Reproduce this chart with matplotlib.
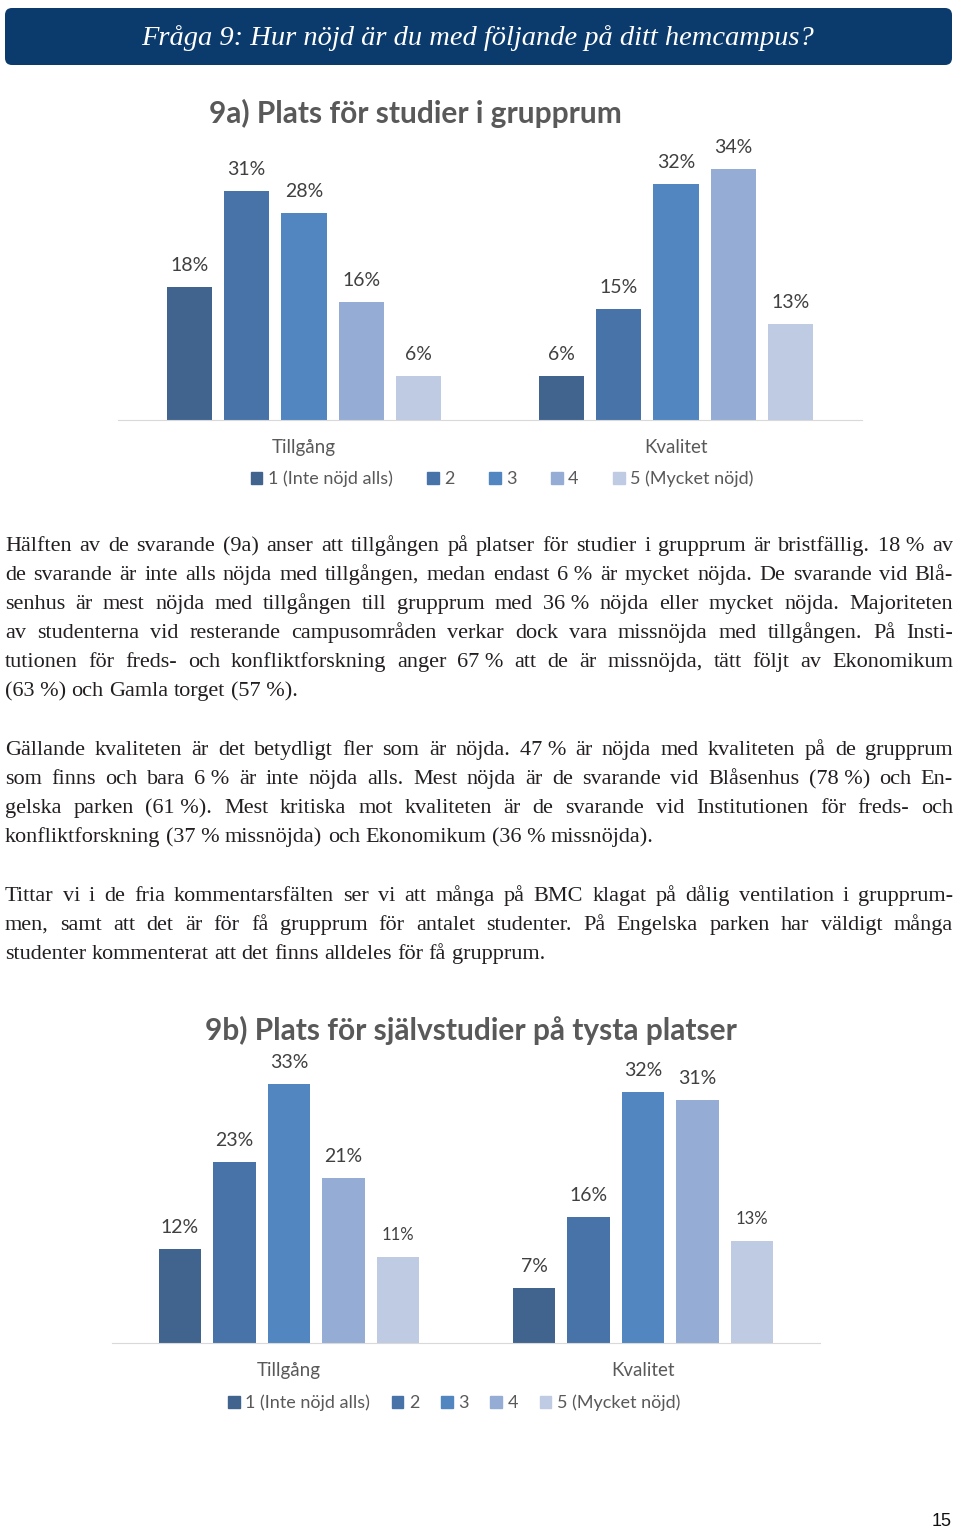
import numpy as np
import matplotlib.pyplot as plt
from matplotlib.patches import FancyBboxPatch, Patch

# data
kategorier = ['Tillgång', 'Kvalitet']
svar = ['1 (Inte nöjd alls)', '2', '3', '4', '5 (Mycket nöjd)']
farger = ['#41648f', '#4773a9', '#5186c1', '#95add5', '#bfcbe3']

titel_a = '9a) Plats för studier i grupprum'
varden_a = np.array([[18, 31, 28, 16, 6],     # Tillgång
                     [6, 15, 32, 34, 13]])    # Kvalitet

titel_b = '9b) Plats för självstudier på tysta platser'
varden_b = np.array([[12, 23, 33, 21, 11],
                     [7, 16, 32, 31, 13]])

rubrik = 'Fråga 9: Hur nöjd är du med följande på ditt hemcampus?'

stycke1 = [
    'Hälften av de svarande (9a) anser att tillgången på platser för studier i grupprum är bristfällig. 18\u00a0% av',
    'de svarande är inte alls nöjda med tillgången, medan endast 6\u00a0% är mycket nöjda. De svarande vid Blå-',
    'senhus är mest nöjda med tillgången till grupprum med 36\u00a0% nöjda eller mycket nöjda. Majoriteten',
    'av studenterna vid resterande campusområden verkar dock vara missnöjda med tillgången. På Insti-',
    'tutionen för freds- och konfliktforskning anger 67\u00a0% att de är missnöjda, tätt följt av Ekonomikum',
    '(63\u00a0%) och Gamla torget (57\u00a0%).',
]
stycke2 = [
    'Gällande kvaliteten är det betydligt fler som är nöjda. 47\u00a0% är nöjda med kvaliteten på de grupprum',
    'som finns och bara 6\u00a0% är inte nöjda alls. Mest nöjda är de svarande vid Blåsenhus (78\u00a0%) och En-',
    'gelska parken (61\u00a0%). Mest kritiska mot kvaliteten är de svarande vid Institutionen för freds- och',
    'konfliktforskning (37\u00a0% missnöjda) och Ekonomikum (36\u00a0% missnöjda).',
]
stycke3 = [
    'Tittar vi i de fria kommentarsfälten ser vi att många på BMC klagat på dålig ventilation i grupprum-',
    'men, samt att det är för få grupprum för antalet studenter. På Engelska parken har väldigt många',
    'studenter kommenterat att det finns alldeles för få grupprum.',
]

W, H = 960, 1533
fig = plt.figure(figsize=(W / 100, H / 100), dpi=100)
fig.patch.set_facecolor('white')

# sidan i pixelkoordinater
page = fig.add_axes([0, 0, 1, 1])
page.set_xlim(0, W)
page.set_ylim(H, 0)
page.axis('off')

# rubrikruta
page.add_patch(FancyBboxPatch((5, 8), 947, 57, boxstyle='round,pad=0,rounding_size=7',
                              fc='#0b3a6c', ec='none'))
page.text(478, 38, rubrik, ha='center', va='center', color='white', fontsize=20.5,
          family='Liberation Serif', style='italic')

renderer = fig.canvas.get_renderer()


def rad(text, ybas, justera, x0=5, x1=953):
    ord_ = text.split(' ')
    tt = [page.text(0, ybas, o, ha='left', va='baseline', fontsize=16,
                    family='Liberation Serif', color='#231f20') for o in ord_]
    bredd = [t.get_window_extent(renderer).width for t in tt]
    if justera and len(ord_) > 1:
        gap = (x1 - x0 - sum(bredd)) / (len(ord_) - 1)
    else:
        gap = 5.5
    x = x0
    for t, b in zip(tt, bredd):
        t.set_x(x)
        x += b + gap


for stycke, y0 in [(stycke1, 551), (stycke2, 755), (stycke3, 901)]:
    for i, r in enumerate(stycke):
        rad(r, y0 + 29 * i, i < len(stycke) - 1)


def diagram(varden, titel, x0, x1, ybas, pxper, titel_xy, titel_storlek, leg_xy, colsp, lab_storlek):
    hojd = 40 * pxper
    ax = fig.add_axes([x0 / W, 1 - ybas / H, (x1 - x0) / W, hojd / H])
    ax.patch.set_alpha(0)
    steg, bredd = 0.154, 0.121
    for i in range(5):
        x = np.arange(2) + (i - 2) * steg
        bars = ax.bar(x, varden[:, i], bredd, color=farger[i], zorder=2)
        for j, b in enumerate(bars):
            ax.annotate(f'{varden[j, i]}%', (b.get_x() + b.get_width() / 2, b.get_height()),
                        xytext=(0, 15.5), textcoords='offset points', ha='center', va='center',
                        fontsize=lab_storlek[j][i], family='Lato', color='#404040')
    ax.set_xlim(-0.5, 1.5)
    ax.set_ylim(0, 40)
    for s in ['left', 'right', 'top']:
        ax.spines[s].set_visible(False)
    ax.spines['bottom'].set_color('#d9d9d9')
    ax.set_yticks([])
    ax.set_xticks([0, 1])
    ax.set_xticklabels(kategorier, fontsize=13.5, family='Lato', color='#595959')
    ax.tick_params(axis='x', length=0, pad=14)
    page.text(titel_xy[0], titel_xy[1], titel, ha='center', va='center', fontsize=titel_storlek,
              family='Lato', weight='bold', color='#595959')
    handles = [Patch(color=c) for c in farger]
    leg = fig.legend(handles, svar, loc='center', ncol=5, frameon=False,
                     bbox_to_anchor=(leg_xy[0] / W, 1 - leg_xy[1] / H),
                     handlelength=0.65, handleheight=0.65, handletextpad=0.3,
                     columnspacing=colsp, prop={'family': 'Lato', 'size': 13})
    for t in leg.get_texts():
        t.set_color('#595959')
    return ax


storlek_a = [[14, 14, 14, 14, 14], [14, 14, 14, 14, 14]]
storlek_b = [[14, 14, 14, 14, 12], [14, 14, 14, 14, 12]]

diagram(varden_a, titel_a, 118, 862, 420, 7.38, (415, 113), 21.5, (502, 479), 1.9, storlek_a)
diagram(varden_b, titel_b, 112, 820, 1343, 7.85, (471, 1030), 21.5, (454, 1403), 1.2, storlek_b)

page.text(942, 1522, '15', ha='center', va='center', fontsize=13, family='Liberation Sans',
          color='#111111')

plt.savefig('out.png', dpi=100)
